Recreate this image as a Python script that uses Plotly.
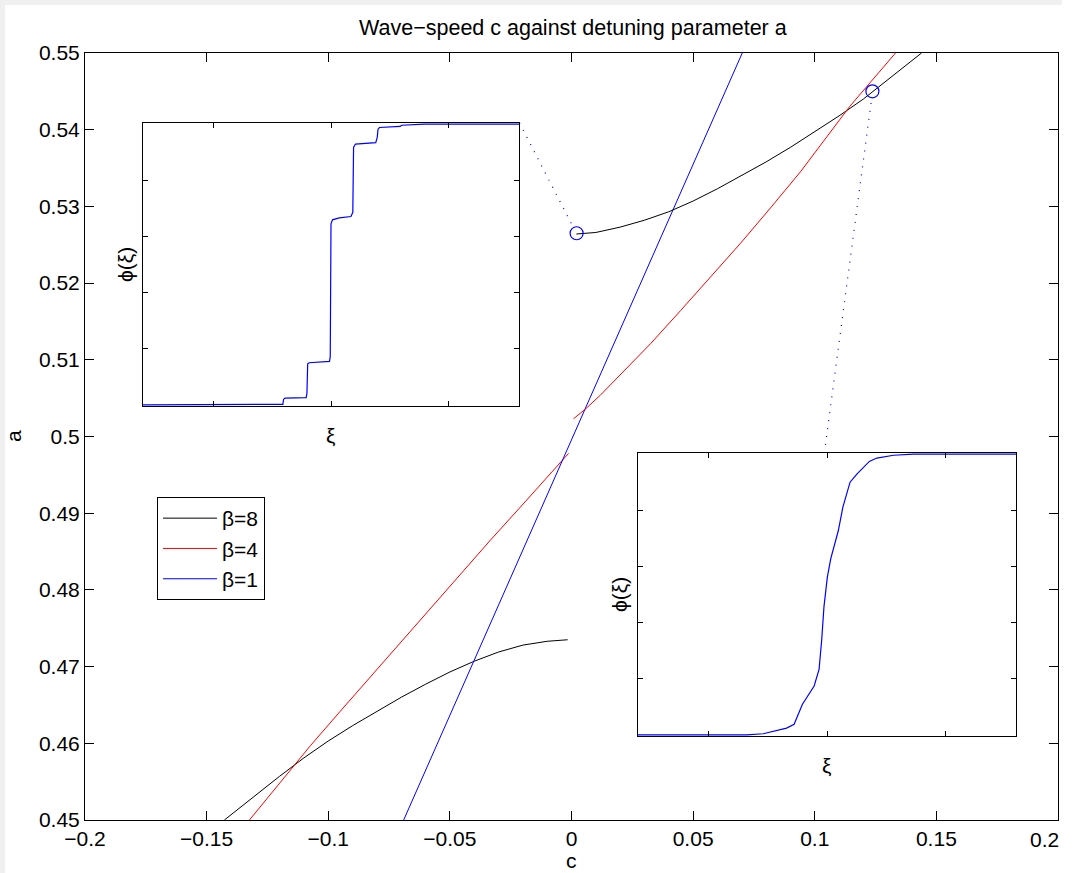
import plotly.graph_objects as go

# ---------------- data ----------------
# beta = 8 (black), two branches
c_b8_low = [-0.1427, -0.13, -0.12, -0.11, -0.10, -0.09, -0.08, -0.07, -0.06, -0.05, -0.04, -0.03, -0.02, -0.01, -0.0016]
a_b8_low = [0.4500, 0.4532, 0.4557, 0.4581, 0.4603, 0.4623, 0.4642, 0.4660, 0.4677, 0.4693, 0.4707, 0.4719, 0.4728, 0.4733, 0.4735]
c_b8_up = [0.002, 0.01, 0.02, 0.03, 0.04, 0.05, 0.06, 0.07, 0.08, 0.09, 0.10, 0.11, 0.12, 0.13, 0.1439]
a_b8_up = [0.5264, 0.5266, 0.5273, 0.5282, 0.5293, 0.5307, 0.5323, 0.5340, 0.5358, 0.5377, 0.5397, 0.5418, 0.5440, 0.5465, 0.5500]

# beta = 4 (red), two branches
c_b4_low = [-0.1324, -0.1196, -0.1073, -0.0950, -0.0826, -0.0703, -0.0580, -0.0456, -0.0333, -0.0210, -0.0107, -0.0012]
a_b4_low = [0.4500, 0.4550, 0.4597, 0.4642, 0.4687, 0.4732, 0.4776, 0.4821, 0.4865, 0.4908, 0.4945, 0.4978]
c_b4_up = [0.0008, 0.0058, 0.0119, 0.0222, 0.0325, 0.0448, 0.0571, 0.0695, 0.0818, 0.0941, 0.1036, 0.1143, 0.1332]
a_b4_up = [0.5023, 0.5036, 0.5054, 0.5087, 0.5121, 0.5164, 0.5208, 0.5252, 0.5298, 0.5345, 0.5385, 0.5430, 0.5500]

# beta = 1 (blue)
c_b1 = [-0.069, 0.0007, 0.0702]
a_b1 = [0.45, 0.50, 0.55]

# highlighted solutions (circles)
c_marks = [0.0021, 0.1237]
a_marks = [0.5265, 0.5450]

# dotted connector lines (main-axes data coords)
c_link1 = [-0.0214, 0.0007]
a_link1 = [0.5409, 0.5273]
c_link2 = [0.1044, 0.1234]
a_link2 = [0.4989, 0.5441]

# inset 1 profile (staircase)
xi_1 = [-40, -15.2, -10.24, -10.08, -9.76, -5.28, -5.12, -4.96, -4.64, -0.32, -0.16, 0.0, 0.32,
        1.76, 4.24, 4.64, 4.8, 5.2, 9.52, 9.84, 10.0, 10.32, 14.72, 15.04, 19.84, 40]
phi_1 = [0, 0, 0.002, 0.020, 0.024, 0.026, 0.041, 0.146, 0.150, 0.155, 0.172, 0.645, 0.659,
         0.666, 0.671, 0.686, 0.917, 0.929, 0.934, 0.953, 0.982, 0.988, 0.992, 0.996, 1.0, 1.0]

# inset 2 profile (smooth front)
xi_2 = [-40, -17.0, -13.5, -10.0, -8.56, -6.96, -5.2, -2.72, -1.68, -1.12, -0.64, 0.08, 0.8,
        2.4, 3.36, 4.88, 6.32, 8.96, 10.56, 14.08, 18.32, 40]
phi_2 = [0, 0, 0.004, 0.018, 0.024, 0.038, 0.109, 0.174, 0.233, 0.339, 0.457, 0.563, 0.628,
         0.728, 0.811, 0.900, 0.929, 0.974, 0.986, 0.996, 1.0, 1.0]

# ticks
x_ticks = [-0.2, -0.15, -0.1, -0.05, 0, 0.05, 0.1, 0.15, 0.2]
x_tick_text = ["\u22120.2", "\u22120.15", "\u22120.1", "\u22120.05", "0", "0.05", "0.1", "0.15", "0.2"]
y_ticks = [0.45, 0.46, 0.47, 0.48, 0.49, 0.5, 0.51, 0.52, 0.53, 0.54, 0.55]
y_tick_text = ["0.45", "0.46", "0.47", "0.48", "0.49", "0.5", "0.51", "0.52", "0.53", "0.54", "0.55"]
inset_x_ticks = [-25, 0, 25]
inset_y_ticks = [0.2, 0.4, 0.6, 0.8]

legend_names = ["\u03b2=8", "\u03b2=4", "\u03b2=1"]

# ---------------- figure ----------------
FONT = "Liberation Sans, Arial, Helvetica, sans-serif"
FS = 21
W, H = 1062, 873
ML, MR, MT, MB = 85, 4, 53, 53
PW, PH = W - ML - MR, H - MT - MB


def px_x(px):
    return (px - ML) / PW


def px_y(py):
    return (H - MB - py) / PH


fig = go.Figure()
BLACK, RED, BLUE = "#000000", "#ff0000", "#0000ff"

fig.add_trace(go.Scatter(x=c_b8_low, y=a_b8_low, mode="lines", line=dict(color=BLACK, width=1),
                         name=legend_names[0], legendgroup="b8", showlegend=True))
fig.add_trace(go.Scatter(x=c_b4_low, y=a_b4_low, mode="lines", line=dict(color=RED, width=1),
                         name=legend_names[1], legendgroup="b4", showlegend=True))
fig.add_trace(go.Scatter(x=c_b1, y=a_b1, mode="lines", line=dict(color=BLUE, width=1),
                         name=legend_names[2], legendgroup="b1", showlegend=True))
fig.add_trace(go.Scatter(x=c_b8_up, y=a_b8_up, mode="lines", line=dict(color=BLACK, width=1),
                         name=legend_names[0], legendgroup="b8", showlegend=False))
fig.add_trace(go.Scatter(x=c_b4_up, y=a_b4_up, mode="lines", line=dict(color=RED, width=1),
                         name=legend_names[1], legendgroup="b4", showlegend=False))
fig.add_trace(go.Scatter(x=c_link1, y=a_link1, mode="lines", line=dict(color=BLUE, width=1.2, dash="1px,7px"),
                         showlegend=False, hoverinfo="skip"))
fig.add_trace(go.Scatter(x=c_link2, y=a_link2, mode="lines", line=dict(color=BLUE, width=1.2, dash="1px,7px"),
                         showlegend=False, hoverinfo="skip"))
fig.add_trace(go.Scatter(x=c_marks, y=a_marks, mode="markers",
                         marker=dict(symbol="circle-open", size=13, color=BLUE, line=dict(width=1.2, color=BLUE)),
                         showlegend=False))

# insets
fig.add_trace(go.Scatter(x=xi_1, y=phi_1, mode="lines", line=dict(color=BLUE, width=1.2),
                         xaxis="x2", yaxis="y2", showlegend=False))
fig.add_trace(go.Scatter(x=xi_2, y=phi_2, mode="lines", line=dict(color=BLUE, width=1.2),
                         xaxis="x3", yaxis="y3", showlegend=False))

axis_common = dict(showline=True, linecolor="black", linewidth=1, mirror="ticks", ticks="inside",
                   tickcolor="black", showgrid=False, zeroline=False)

in1 = dict(x=(px_x(143), px_x(519)), y=(px_y(406), px_y(123)))
in2 = dict(x=(px_x(638), px_x(1016)), y=(px_y(736), px_y(453)))

# the right-most x tick label would run past the page edge: it is drawn as an annotation instead
x_tick_text_axis = x_tick_text[:-1] + [""]

fig.update_layout(
    width=W, height=H, autosize=False,
    margin=dict(l=ML, r=MR, t=MT, b=MB),
    paper_bgcolor="white", plot_bgcolor="white",
    font=dict(family=FONT, size=FS, color="black"),
    showlegend=True,
    legend=dict(x=px_x(157), y=px_y(497), xanchor="left", yanchor="top",
                bordercolor="black", borderwidth=1, bgcolor="white",
                font=dict(family=FONT, size=FS), tracegroupgap=0, itemwidth=54),
    xaxis=dict(range=[-0.2, 0.2], tickvals=x_ticks, ticktext=x_tick_text_axis, ticklen=9,
               domain=[0, 1], **axis_common),
    yaxis=dict(range=[0.45, 0.55], tickvals=y_ticks, ticktext=y_tick_text, ticklen=9,
               domain=[0, 1], **axis_common),
    xaxis2=dict(domain=list(in1["x"]), anchor="y2", range=[-40, 40], tickvals=inset_x_ticks,
                showticklabels=False, ticklen=5, **axis_common),
    yaxis2=dict(domain=list(in1["y"]), anchor="x2", range=[-0.004, 1.004], tickvals=inset_y_ticks,
                showticklabels=False, ticklen=5, **axis_common),
    xaxis3=dict(domain=list(in2["x"]), anchor="y3", range=[-40, 40], tickvals=inset_x_ticks,
                showticklabels=False, ticklen=5, **axis_common),
    yaxis3=dict(domain=list(in2["y"]), anchor="x3", range=[-0.004, 1.004], tickvals=inset_y_ticks,
                showticklabels=False, ticklen=5, **axis_common),
)

# page background strips (top and left light grey margins)
GREY = "#f0f0f0"
fig.add_shape(type="rect", xref="paper", yref="paper", x0=px_x(0), x1=px_x(W), y0=px_y(5), y1=px_y(0),
              fillcolor=GREY, line=dict(width=0), layer="below")
fig.add_shape(type="rect", xref="paper", yref="paper", x0=px_x(0), x1=px_x(5), y0=px_y(H), y1=px_y(0),
              fillcolor=GREY, line=dict(width=0), layer="below")

ann = [
    dict(text="Wave\u2212speed c against detuning parameter a", x=px_x(573), y=px_y(28),
         font=dict(family=FONT, size=21.5, color="black")),
    dict(text="c", x=px_x(571), y=px_y(860)),
    dict(text="a", x=px_x(14), y=px_y(436), textangle=-90),
    dict(text="\u03d5(\u03be)", x=px_x(125), y=px_y(265), textangle=-90),
    dict(text="\u03be", x=px_x(330), y=px_y(435)),
    dict(text="\u03d5(\u03be)", x=px_x(619), y=px_y(595), textangle=-90),
    dict(text="\u03be", x=px_x(826), y=px_y(765)),
    dict(text=x_tick_text[-1], x=px_x(W - 1), y=px_y(839), xanchor="right"),
]
for a in ann:
    a.setdefault("font", dict(family=FONT, size=FS, color="black"))
    a.setdefault("xanchor", "center")
    fig.add_annotation(xref="paper", yref="paper", showarrow=False, yanchor="middle", **a)

fig.write_html("out.html", config={"responsive": False})
